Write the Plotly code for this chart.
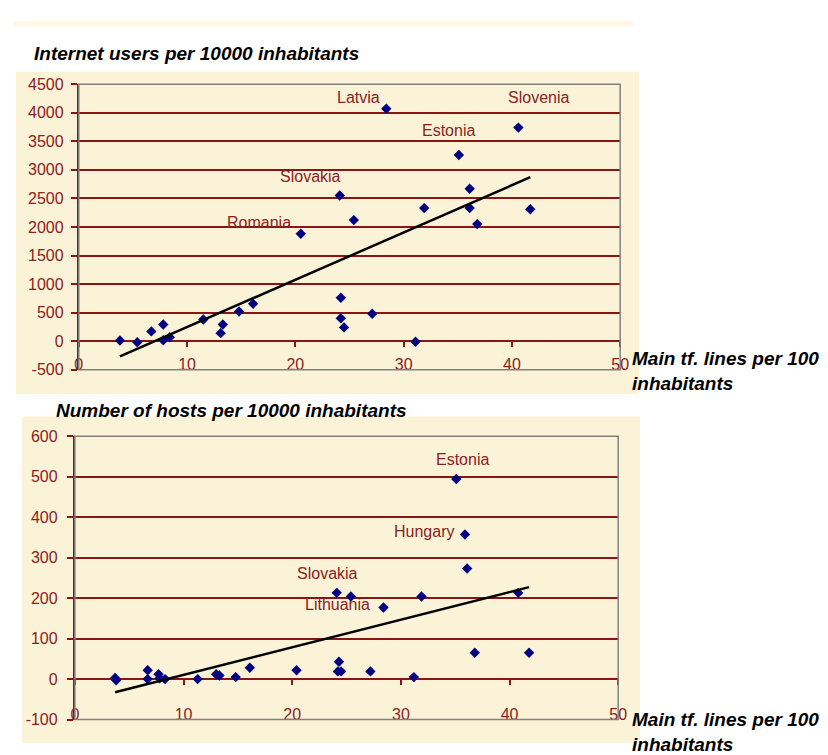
import numpy as np
import plotly.graph_objects as go

# ---------------- data ----------------
x_ticks = [0, 10, 20, 30, 40, 50]

users_x = [3.8, 5.4, 6.7, 7.8, 7.8, 8.4, 11.5, 13.1, 13.3, 14.8, 16.1, 20.5, 24.1, 24.2,
           24.2, 24.5, 25.4, 27.1, 28.4, 31.1, 31.9, 35.1, 36.1, 36.1, 36.8, 40.6, 41.7]
users_y = [10, -20, 170, 290, 15, 70, 380, 140, 290, 520, 655, 1880, 2550, 760,
           400, 240, 2120, 480, 4070, -10, 2330, 3260, 2670, 2330, 2050, 3740, 2310]
users_label_idx = [18, 25, 21, 12, 11]
users_label_txt = ["Latvia", "Slovenia", "Estonia", "Slovakia", "Romania"]

hosts_x = [3.7, 3.8, 6.7, 6.7, 7.7, 7.8, 8.3, 11.3, 13.0, 13.3, 14.8, 16.1, 20.4, 24.1,
           24.3, 24.2, 24.5, 25.4, 27.2, 28.4, 31.2, 31.9, 35.1, 35.9, 36.1, 36.8, 40.8, 41.8]
hosts_y = [3, -3, 22, 0, 12, 2, 0, 0, 12, 9, 5, 28, 22, 213,
           43, 19, 19, 204, 19, 177, 5, 204, 494, 357, 273, 65, 213, 65]
hosts_label_idx = [22, 23, 13, 19]
hosts_label_txt = ["Estonia", "Hungary", "Slovakia", "Lithuania"]

users_ticks = list(range(-500, 4501, 500))
hosts_ticks = list(range(-100, 601, 100))

# ---------------- style ----------------
W, H = 828, 755
RED = "#8B1414"
LBL = "#8B2020"
GRAY_BG = "#C0C0C0"
BEIGE = "#FBF3D8"
MARK = "#000080"
FONT = "Liberation Sans, Arial, sans-serif"
TICK_SIZE = 16
TITLE_SIZE = 19

users_offsets = [(-28, 11), (20, 30), (-10, 25), (-29, 19), (-42, 11)]
hosts_offsets = [(6, 20), (-41, 3), (-9, 19), (-46, 3)]

def px_to_paper_x(p):
    return p / W

def px_to_paper_y(p):
    return 1 - p / H

top_xdom = [px_to_paper_x(76), px_to_paper_x(626)]
top_ydom = [px_to_paper_y(370), px_to_paper_y(78)]
bot_xdom = [px_to_paper_x(72), px_to_paper_x(624)]
bot_ydom = [px_to_paper_y(728), px_to_paper_y(438)]

fig = go.Figure()

def add_panel(xs, ys, xa, ya, label_idx, label_txt, offsets):
    fig.add_trace(go.Scatter(x=xs, y=ys, mode="markers", xaxis=xa, yaxis=ya,
                             marker=dict(symbol="diamond", size=8, color=MARK),
                             showlegend=False, hoverinfo="skip"))
    slope, inter = np.polyfit(xs, ys, 1)
    lx = np.array([min(xs), max(xs)])
    fig.add_trace(go.Scatter(x=lx, y=slope * lx + inter, mode="lines", xaxis=xa, yaxis=ya,
                             line=dict(color="black", width=2.5),
                             showlegend=False, hoverinfo="skip"))
    for i, t, (dx, dy) in zip(label_idx, label_txt, offsets):
        fig.add_annotation(x=xs[i], y=ys[i], xref=xa, yref=ya, text=t, showarrow=False,
                           xshift=dx, yshift=dy,
                           font=dict(family=FONT, size=TICK_SIZE, color=LBL))

add_panel(users_x, users_y, "x", "y", users_label_idx, users_label_txt, users_offsets)
add_panel(hosts_x, hosts_y, "x2", "y2", hosts_label_idx, hosts_label_txt, hosts_offsets)

def zero_pos(dom, rng):
    return dom[0] + (0 - rng[0]) / (rng[1] - rng[0]) * (dom[1] - dom[0])

top_yr = [-500, 4500]
bot_yr = [-100, 600]

common_x_tick = dict(range=[0, 50], tickvals=x_ticks, showgrid=False, zeroline=False,
                     showline=False, fixedrange=True)

def yax(dom, anchor, rng, ticks, standoff):
    return dict(domain=dom, anchor=anchor, range=rng, tickvals=ticks,
                ticktext=[str(v) for v in ticks],
                showgrid=True, gridcolor=RED, gridwidth=2,
                zeroline=True, zerolinecolor=RED, zerolinewidth=2,
                showline=True, linecolor=RED, linewidth=2,
                ticks="outside", ticklen=6, tickcolor=RED, tickwidth=1.5,
                ticklabelstandoff=standoff,
                tickfont=dict(size=TICK_SIZE, color=LBL), fixedrange=True)

fig.update_layout(
    width=W, height=H, margin=dict(l=0, r=0, t=0, b=0),
    paper_bgcolor="white", plot_bgcolor=GRAY_BG,
    font=dict(family=FONT, size=TICK_SIZE, color=LBL),
    # top panel
    xaxis=dict(domain=top_xdom, anchor="free", position=zero_pos(top_ydom, top_yr),
               ticks="outside", ticklen=5, tickwidth=1.5, tickcolor=RED,
               showticklabels=False, **common_x_tick),
    xaxis3=dict(overlaying="x", anchor="y", side="bottom", ticks="",
                showticklabels=True, ticklabelstandoff=-17,
                tickfont=dict(size=TICK_SIZE, color=LBL), **common_x_tick),
    yaxis=yax(top_ydom, "x", top_yr, users_ticks, 4),
    # bottom panel
    xaxis2=dict(domain=bot_xdom, anchor="free", position=zero_pos(bot_ydom, bot_yr),
                ticks="outside", ticklen=5, tickwidth=1.5, tickcolor=RED,
                showticklabels=False, **common_x_tick),
    xaxis4=dict(overlaying="x2", anchor="y2", side="bottom", ticks="",
                showticklabels=True, ticklabelstandoff=-17,
                tickfont=dict(size=TICK_SIZE, color=LBL), **common_x_tick),
    yaxis2=yax(bot_ydom, "x2", bot_yr, hosts_ticks, 6),
)

# dummy traces so overlay axes render
fig.add_trace(go.Scatter(x=[None], y=[None], xaxis="x3", yaxis="y", showlegend=False))
fig.add_trace(go.Scatter(x=[None], y=[None], xaxis="x4", yaxis="y2", showlegend=False))

# beige paper backgrounds
def prect(x0, y0, x1, y1, color, opacity=1.0):
    fig.add_shape(type="rect", xref="paper", yref="paper",
                  x0=px_to_paper_x(x0), x1=px_to_paper_x(x1),
                  y0=px_to_paper_y(y1), y1=px_to_paper_y(y0),
                  fillcolor=color, opacity=opacity, line=dict(width=0), layer="below")

prect(12, 65, 645, 395, BEIGE)
prect(10, 13, 640, 19, BEIGE, 0.6)
prect(18, 418, 646, 752, BEIGE)

# plot-area borders
for xr, yr in [("x domain", "y domain"), ("x2 domain", "y2 domain")]:
    fig.add_shape(type="rect", xref=xr, yref=yr, x0=0, x1=1, y0=0, y1=1,
                  line=dict(color="#808080", width=1.5), fillcolor="rgba(0,0,0,0)",
                  layer="above")

# titles
def ptext(x, y, text, anchor="left"):
    fig.add_annotation(xref="paper", yref="paper", x=px_to_paper_x(x), y=px_to_paper_y(y),
                       text=text, showarrow=False, xanchor=anchor, yanchor="middle",
                       align="left", font=dict(family=FONT, size=TITLE_SIZE, color="black"))

ptext(28, 47, "<b><i>Internet users per 10000 inhabitants</i></b>")
ptext(51, 412, "<b><i>Number of hosts per 10000 inhabitants</i></b>")
ptext(636, 371, "<b><i>Main tf. lines per 100<br>inhabitants</i></b>")
ptext(636, 741, "<b><i>Main tf. lines per 100<br>inhabitants</i></b>")

fig.write_html("out.html")
